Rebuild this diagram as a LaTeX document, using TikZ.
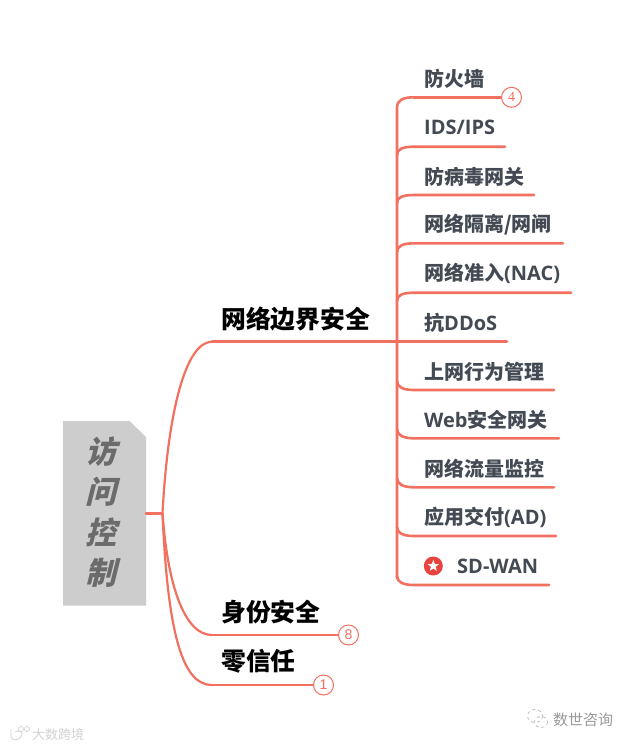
\documentclass[tikz,border=0pt]{standalone}
\usepackage{fontspec}
\newfontfamily\cjk{Noto Sans CJK SC}
\newfontfamily\cjkslant[FakeSlant=0.25]{Noto Sans CJK SC}
\newfontfamily\lat{Open Sans}
\setmainfont{Liberation Sans}
\newfontfamily\numserif{Liberation Serif}
\definecolor{linec}{HTML}{F1705F}
\definecolor{leaftext}{HTML}{434A54}
\definecolor{rootfill}{HTML}{CDCDCD}
\definecolor{roottext}{HTML}{6B6B6B}
\definecolor{starred}{HTML}{E8443F}
\definecolor{wm}{HTML}{9A9A9A}
\usetikzlibrary{shapes.geometric}
\tikzset{
  leaf/.style={anchor=west,inner sep=0pt,text=leaftext,font=\cjk\bfseries\fontsize{20}{24}\selectfont},
  major/.style={anchor=west,inner sep=0pt,text=black,font=\cjk\bfseries\fontsize{24.8}{28}\selectfont},
  branch/.style={draw=linec,line width=2.6pt,line cap=round},
  thin branch/.style={draw=linec,line width=2.2pt},
  badge/.style={circle,draw=linec,line width=1pt,fill=white,minimum size=20pt,inner sep=0pt,text=linec,font=\fontsize{14}{14}\selectfont},
}
\begin{document}
\begin{tikzpicture}[x=1pt,y=-1pt]
\useasboundingbox (0,0) rectangle (633,748);
\fill[white] (0,0) rectangle (633,748);
% root
\fill[rootfill] (63,421) -- (129.5,421) -- (146,437) -- (146,605.5) -- (63,605.5) -- cycle;
\node[inner sep=0pt,align=center,text=roottext,font=\cjkslant\bfseries\fontsize{31}{40.4}\selectfont] (root) at (100.5,512) {访\\问\\控\\制};
\coordinate (rootR) at (146,513.3);
\coordinate (hub) at (162.5,513.3);
% major topics
\node[major] (net) at (221,319.5) {网络边界安全};
\node[major] (idn) at (221,612) {身份安全};
\node[major] (zt) at (221,661.5) {零信任};
\coordinate (netL) at (212,341.7);
\coordinate (netR) at (397,341.7);
\coordinate (idnL) at (212,635);
\coordinate (ztL) at (212,685);
\node[badge] (b8) at (348.5,635) {8};
\node[badge] (b1) at (323.5,685) {1};
\draw[branch] (rootR) -- (hub);
\draw[thin branch] (hub) .. controls (168,410) and (186,341.7) .. (netL);
\draw[thin branch] (hub) .. controls (168,590) and (186,635) .. (idnL);
\draw[thin branch] (hub) .. controls (168,640) and (184,685) .. (ztL);
\draw[branch] (netL) -- (netR);
\draw[branch] (idnL) -- (b8);
\draw[branch] (ztL) -- (b1);
% leaves
\node[leaf] (l1) at (424,79) {防火墙};
\node[leaf] (l2) at (424,127) {\lat IDS/IPS};
\node[leaf] (l3) at (424,176.5) {防病毒网关};
\node[leaf] (l4) at (424,225) {网络隔离/网闸};
\node[leaf] (l5) at (424,273.5) {网络准入{\lat(NAC)}};
\node[leaf] (l6) at (424,322.5) {抗{\lat DDoS}};
\node[leaf] (l7) at (424,371.5) {上网行为管理};
\node[leaf] (l8) at (424,419.5) {{\lat Web}安全网关};
\node[leaf] (l9) at (424,468.5) {网络流量监控};
\node[leaf] (l10) at (424,517.5) {应用交付{\lat(AD)}};
\node[leaf] (l11) at (457,566) {\lat SD-WAN};
\node[badge,font=\numserif\fontsize{14}{14}\selectfont] (b4) at (511.5,97.3) {4};
\coordinate (e2) at (505,146.7);
\coordinate (e3) at (534,195);
\coordinate (e4) at (563,243.3);
\coordinate (e5) at (571,292.7);
\coordinate (e7) at (554,390);
\coordinate (e8) at (559,438.3);
\coordinate (e9) at (554,487.3);
\coordinate (e10) at (556,536);
\coordinate (e11) at (549,585);
\coordinate (e6) at (507,341.7);
\coordinate (s1) at (414,97.3);
\draw[branch] (397,578) -- (397,108) .. controls (397,100) and (403,97.3) .. (s1);
\draw[branch] (b4) -- (s1);
\draw[branch] (397,155) .. controls (397,149) and (403,146.7) .. (414,146.7) -- (e2);
\draw[branch] (397,203) .. controls (397,197) and (403,195) .. (414,195) -- (e3);
\draw[branch] (397,252) .. controls (397,246) and (403,243.3) .. (414,243.3) -- (e4);
\draw[branch] (397,301) .. controls (397,295) and (403,292.7) .. (414,292.7) -- (e5);
\draw[branch] (netR) -- (e6);
\draw[branch] (397,381) .. controls (397,387) and (403,390) .. (414,390) -- (e7);
\draw[branch] (397,429) .. controls (397,435) and (403,438.3) .. (414,438.3) -- (e8);
\draw[branch] (397,478) .. controls (397,484) and (403,487.3) .. (414,487.3) -- (e9);
\draw[branch] (397,527) .. controls (397,533) and (403,536) .. (414,536) -- (e10);
\draw[branch] (397,576) .. controls (397,582) and (403,585) .. (414,585) -- (e11);
% star icon
\node[circle,fill=starred,minimum size=19pt,inner sep=0pt] (staricon) at (433.3,566) {};
\node[star,star points=5,star point ratio=2.4,fill=white,minimum size=12pt,inner sep=0pt] (starglyph) at (433.3,566) {};
% watermarks
\node[anchor=west,inner sep=0pt,text=wm,font=\cjk\fontsize{15}{15}\selectfont] (wm1) at (553,720) {数世咨询};
\draw[wm!80,line width=.6pt,dashed] (535,716) ellipse (7.5 and 6.5);
\draw[wm!80,line width=.6pt,dashed] (541,722) ellipse (6.5 and 5.5);
\node[anchor=west,inner sep=0pt,text=wm!45,font=\cjk\fontsize{13}{13}\selectfont] (wm2) at (32,735) {大数跨境};
\draw[wm!45,line width=.8pt] (11,729) -- (11,737) .. controls (12,741) and (20,741) .. (22,735) .. controls (23,731) and (18,730) .. (15,732);
\draw[wm!45,line width=.7pt] (21,729) circle (2.5) (27,729) circle (2.5);
\end{tikzpicture}
\end{document}
